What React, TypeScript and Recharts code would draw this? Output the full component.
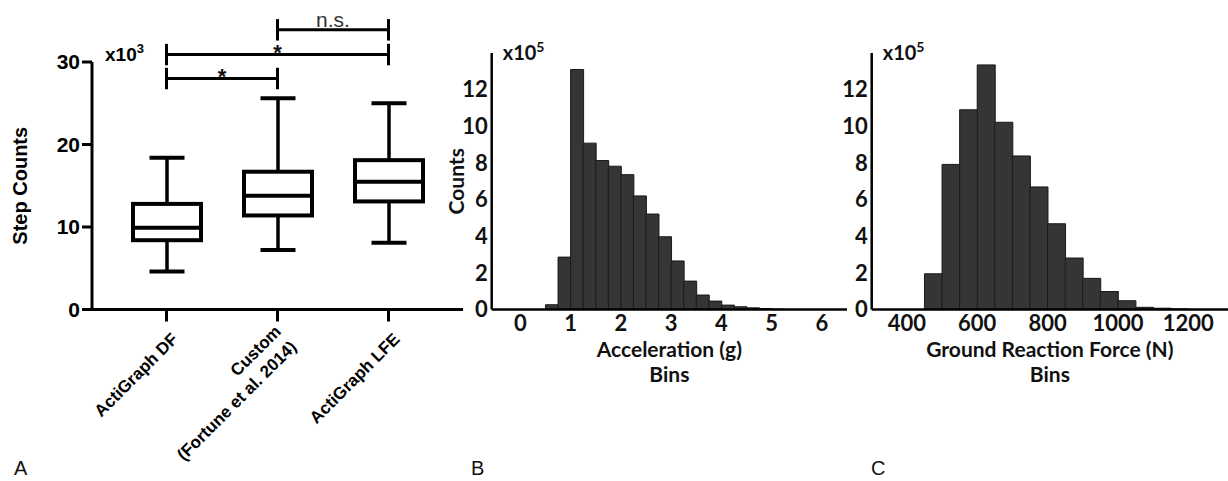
import React from 'react';
import { ComposedChart, BarChart, Bar, XAxis, YAxis, ReferenceLine } from 'recharts';

// ---------- Panel A: step counts box plots (values in thousands) ----------
const categories = ['ActiGraph DF', 'Custom', 'ActiGraph LFE'];
const categoryLabelLines = [['ActiGraph DF'], ['Custom', '(Fortune et al. 2014)'], ['ActiGraph LFE']];
const boxMin = [4.6, 7.2, 8.1];
const boxQ1 = [8.4, 11.4, 13.1];
const boxMedian = [9.9, 13.8, 15.5];
const boxQ3 = [12.8, 16.7, 18.1];
const boxMax = [18.4, 25.6, 25.0];
const stepTicks = [0, 10, 20, 30];

const sigFrom = ['ActiGraph DF', 'ActiGraph DF', 'Custom'];
const sigTo = ['Custom', 'ActiGraph LFE', 'ActiGraph LFE'];
const sigLevel = [28.0, 30.9, 33.9];
const sigText = ['*', '*', 'n.s.'];
const sigTickHalf = 1.3;

// ---------- Panel B: acceleration histogram (counts x10^5) ----------
const accelBinStart = [0.5, 0.75, 1.0, 1.25, 1.5, 1.75, 2.0, 2.25, 2.5, 2.75, 3.0, 3.25, 3.5, 3.75, 4.0, 4.25, 4.5, 4.75, 5.0];
const accelCounts = [0.26, 2.86, 13.1, 9.08, 8.13, 7.82, 7.36, 6.2, 5.21, 3.97, 2.65, 1.55, 0.79, 0.46, 0.24, 0.15, 0.09, 0.05, 0.02];
const accelTicks = [0, 1, 2, 3, 4, 5, 6];

// ---------- Panel C: ground reaction force histogram (counts x10^5) ----------
const grfBinStart = [450, 500, 550, 600, 650, 700, 750, 800, 850, 900, 950, 1000, 1050, 1100, 1150];
const grfCounts = [1.95, 7.92, 10.9, 13.35, 10.22, 8.38, 6.69, 4.68, 2.81, 1.7, 0.98, 0.48, 0.12, 0.07, 0.03];
const grfTicks = [400, 600, 800, 1000, 1200];

const countTicks = [0, 2, 4, 6, 8, 10, 12];

// ---------- derived tables ----------
const boxData = categories.map((name, i) => ({
  name,
  range: [boxMin[i], boxMax[i]],
  min: boxMin[i],
  q1: boxQ1[i],
  median: boxMedian[i],
  q3: boxQ3[i],
  max: boxMax[i],
}));

const accelWidth = accelBinStart[1] - accelBinStart[0];
const accelData = accelBinStart.map((s, i) => ({ x: s + accelWidth / 2, count: accelCounts[i] }));
const grfWidth = grfBinStart[1] - grfBinStart[0];
const grfData = grfBinStart.map((s, i) => ({ x: s + grfWidth / 2, count: grfCounts[i] }));

const ARIAL = '"Liberation Sans", Arial, sans-serif';
const LATO = 'Lato, "Open Sans", sans-serif';

const BoxShape = (props: any) => {
  const { x, y, width, height, payload } = props;
  const { min, max, q1, median, q3 } = payload;
  const py = (v: number) => y + (height * (max - v)) / (max - min);
  const cx = x + width / 2;
  const capHalf = 17.5;
  const sw = 4;
  return (
    <g stroke="#000" strokeWidth={sw} fill="none">
      <line x1={cx} x2={cx} y1={py(max)} y2={py(q3)} strokeWidth={3.5} />
      <line x1={cx} x2={cx} y1={py(q1)} y2={py(min)} strokeWidth={3.5} />
      <line x1={cx - capHalf} x2={cx + capHalf} y1={py(max)} y2={py(max)} />
      <line x1={cx - capHalf} x2={cx + capHalf} y1={py(min)} y2={py(min)} />
      <rect x={x} y={py(q3)} width={width} height={py(q1) - py(q3)} fill="#fff" />
      <line x1={x} x2={x + width} y1={py(median)} y2={py(median)} />
    </g>
  );
};

const CategoryTick = (props: any) => {
  const x = Number(props.x);
  const y = Number(props.y);
  const value = props.payload ? props.payload.value : '';
  const idx = categories.indexOf(value);
  const lines = idx >= 0 ? categoryLabelLines[idx] : [String(value)];
  const n = lines.length;
  const cx = x + 8;
  const cy = y + 12.5;
  const c = Math.SQRT1_2;
  return (
    <g>
      {lines.map((ln, i) => {
        const off = (i - (n - 1) / 2) * 22 + 6;
        const ax = cx + off * c;
        const ay = cy + off * c;
        return (
          <text
            key={i}
            x={ax}
            y={ay}
            transform={`rotate(-45 ${ax} ${ay})`}
            textAnchor="end"
            fontFamily={ARIAL}
            fontWeight="bold"
            fontSize={17}
            fill="#000"
          >
            {ln}
          </text>
        );
      })}
    </g>
  );
};

const makeSigLabel = (text: string) => (props: any) => {
  const vb = props.viewBox || {};
  const cx = (vb.x ?? 0) + (vb.width ?? 0) / 2;
  const ly = vb.y ?? 0;
  if (text === '*') {
    return (
      <text x={cx} y={ly + 5.5} textAnchor="middle" fontFamily={ARIAL} fontWeight="bold" fontSize={22} fill="#111">
        {text}
      </text>
    );
  }
  return (
    <text x={cx} y={ly - 3} textAnchor="middle" fontFamily={ARIAL} fontSize={21} fill="#333">
      {text}
    </text>
  );
};

const StepAxisLabel = (props: any) => {
  const vb = props.viewBox || {};
  const cy = vb.y + vb.height / 2;
  return (
    <g>
      <text
        transform={`translate(${vb.x + 27},${cy}) rotate(-90)`}
        textAnchor="middle"
        fontFamily={ARIAL}
        fontWeight="bold"
        fontSize={20}
        fill="#000"
      >
        Step Counts
      </text>
      <text x={vb.x + vb.width + 13} y={vb.y - 1} fontFamily={ARIAL} fontWeight="bold" fontSize={19} fill="#000">
        x10
        <tspan dy={-8} fontSize={13}>3</tspan>
      </text>
    </g>
  );
};

const CountAxisLabel = (props: any) => {
  const vb = props.viewBox || {};
  const cy = vb.y + vb.height / 2;
  return (
    <g>
      {props.showTitle ? (
        <text
          transform={`translate(${vb.x + 24},${cy}) rotate(-90)`}
          textAnchor="middle"
          fontFamily={LATO}
          fontWeight="bold"
          fontSize={21}
          fill="#111"
        >
          Counts
        </text>
      ) : null}
      <text x={vb.x + vb.width + 11} y={vb.y + 7} fontFamily={LATO} fontWeight="bold" fontSize={20} fill="#111">
        x10
        <tspan dy={-8} fontSize={14}>5</tspan>
      </text>
    </g>
  );
};

const BinsAxisLabel = (props: any) => {
  const vb = props.viewBox || {};
  const cx = vb.x + vb.width / 2;
  return (
    <g fontFamily={LATO} fontWeight="bold" fontSize={21} fill="#111" textAnchor="middle">
      <text x={cx} y={vb.y + 47}>{props.title}</text>
      <text x={cx} y={vb.y + 72.5}>Bins</text>
    </g>
  );
};

const tickStyleB = { fontFamily: LATO, fontWeight: 'bold' as const, fontSize: 22, fill: '#111' };

export default function App() {
  return (
    <div style={{ position: 'absolute', left: 0, top: 0, width: 1228, height: 481, background: '#fff', overflow: 'hidden' }}>
      {/* Panel A */}
      <div style={{ position: 'absolute', left: 0, top: 0 }}>
        <ComposedChart width={470} height={481} data={boxData} margin={{ top: 62, right: 7, bottom: 0, left: 0 }}>
          <XAxis
            dataKey="name"
            type="category"
            interval={0}
            padding={{ left: 19, right: 19 }}
            height={171.5}
            tickSize={12}
            tickLine={{ stroke: '#000', strokeWidth: 3 }}
            axisLine={{ stroke: '#000', strokeWidth: 3 }}
            tick={(p: any) => <CategoryTick {...p} />}
          />
          <YAxis
            type="number"
            domain={[0, 30]}
            ticks={stepTicks}
            width={92}
            tickSize={10}
            tickMargin={2}
            tickLine={{ stroke: '#000', strokeWidth: 3 }}
            axisLine={{ stroke: '#000', strokeWidth: 3 }}
            tick={{ fontFamily: ARIAL, fontWeight: 'bold', fontSize: 21, fill: '#000' }}
            label={(p: any) => <StepAxisLabel {...p} />}
          />
          <Bar dataKey="range" barSize={68} shape={<BoxShape />} isAnimationActive={false} />
          {sigLevel.map((lv, i) => (
            <ReferenceLine
              key={`h${i}`}
              segment={[
                { x: sigFrom[i], y: lv },
                { x: sigTo[i], y: lv },
              ]}
              ifOverflow="visible"
              stroke="#000"
              strokeWidth={3}
              label={makeSigLabel(sigText[i])}
            />
          ))}
          {sigLevel.map((lv, i) => (
            <ReferenceLine
              key={`l${i}`}
              segment={[
                { x: sigFrom[i], y: lv - sigTickHalf },
                { x: sigFrom[i], y: lv + sigTickHalf },
              ]}
              ifOverflow="visible"
              stroke="#000"
              strokeWidth={3}
            />
          ))}
          {sigLevel.map((lv, i) => (
            <ReferenceLine
              key={`r${i}`}
              segment={[
                { x: sigTo[i], y: lv - sigTickHalf },
                { x: sigTo[i], y: lv + sigTickHalf },
              ]}
              ifOverflow="visible"
              stroke="#000"
              strokeWidth={3}
            />
          ))}
        </ComposedChart>
      </div>

      {/* Panel B */}
      <div style={{ position: 'absolute', left: 440, top: 0 }}>
        <BarChart
          width={420}
          height={481}
          data={accelData}
          margin={{ top: 53, right: 13, bottom: 0, left: 0 }}
          barCategoryGap={0}
          barGap={0}
        >
          <XAxis
            dataKey="x"
            type="number"
            domain={[-0.57, 6.5]}
            allowDataOverflow
            ticks={accelTicks}
            height={171.5}
            tickSize={0}
            tickMargin={6}
            tickLine={false}
            axisLine={{ stroke: '#000', strokeWidth: 2.5 }}
            tick={tickStyleB}
            label={(p: any) => <BinsAxisLabel {...p} title="Acceleration (g)" />}
          />
          <YAxis
            type="number"
            domain={[0, 14]}
            allowDataOverflow
            ticks={countTicks}
            width={51.7}
            tickSize={0}
            tickMargin={4}
            tickLine={false}
            axisLine={{ stroke: '#000', strokeWidth: 2.5 }}
            tick={tickStyleB}
            label={(p: any) => <CountAxisLabel {...p} showTitle />}
          />
          <Bar dataKey="count" fill="#353535" stroke="#1a1a1a" strokeWidth={1} isAnimationActive={false} />
        </BarChart>
      </div>

      {/* Panel C */}
      <div style={{ position: 'absolute', left: 840, top: 0 }}>
        <BarChart
          width={388}
          height={481}
          data={grfData}
          margin={{ top: 53, right: 0, bottom: 0, left: 0 }}
          barCategoryGap={0}
          barGap={0}
        >
          <XAxis
            dataKey="x"
            type="number"
            domain={[300, 1313]}
            allowDataOverflow
            ticks={grfTicks}
            height={171.5}
            tickSize={0}
            tickMargin={6}
            tickLine={false}
            axisLine={{ stroke: '#000', strokeWidth: 2.5 }}
            tick={tickStyleB}
            label={(p: any) => <BinsAxisLabel {...p} title="Ground Reaction Force (N)" />}
          />
          <YAxis
            type="number"
            domain={[0, 14]}
            allowDataOverflow
            ticks={countTicks}
            width={31.7}
            tickSize={0}
            tickMargin={4}
            tickLine={false}
            axisLine={{ stroke: '#000', strokeWidth: 2.5 }}
            tick={tickStyleB}
            label={(p: any) => <CountAxisLabel {...p} />}
          />
          <Bar dataKey="count" fill="#353535" stroke="#1a1a1a" strokeWidth={1} isAnimationActive={false} />
        </BarChart>
      </div>

      {/* Panel letters */}
      <svg width={1228} height={481} style={{ position: 'absolute', left: 0, top: 0, pointerEvents: 'none' }}>
        <g fontFamily={ARIAL} fontSize={20} fill="#111">
          <text x={14} y={475}>A</text>
          <text x={471} y={475}>B</text>
          <text x={871} y={475}>C</text>
        </g>
      </svg>
    </div>
  );
}
